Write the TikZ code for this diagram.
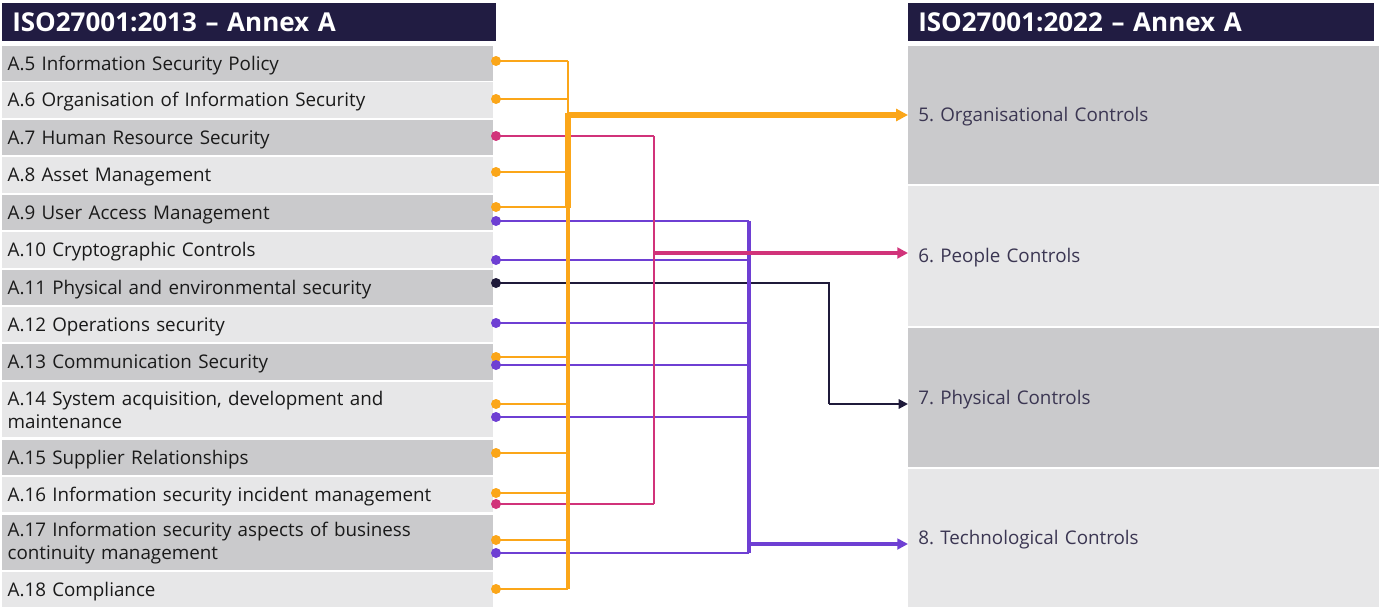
\documentclass[tikz,border=0pt]{standalone}
\usepackage{fontspec}
\setmainfont{Open Sans}
\usetikzlibrary{arrows.meta}
\definecolor{hdr}{HTML}{211C42}
\definecolor{gdk}{HTML}{CACACC}
\definecolor{glt}{HTML}{E7E7E8}
\definecolor{corg}{HTML}{FBA619}
\definecolor{cmag}{HTML}{D1337A}
\definecolor{cpur}{HTML}{6E3FD3}
\definecolor{cnav}{HTML}{1F1A3A}
\definecolor{rtxt}{HTML}{3B3652}
\definecolor{ltxt}{HTML}{1A1A1A}
\tikzset{
  hdrbox/.style={fill=hdr, text=white, font=\bfseries\fontsize{19.5}{22}\selectfont, inner xsep=7.5pt, minimum height=28.5pt, text width=355pt, align=left, anchor=north west, inner ysep=0pt},
  lrow/.style={anchor=north west, text=ltxt, font=\frenchspacing\fontsize{14.1}{17.2}\selectfont, text width=359.75pt, inner xsep=4pt, inner ysep=0pt, align=left},
  one/.style={text height=10.6pt, text depth=0.6pt},
  rrow/.style={anchor=north west, text=rtxt, font=\frenchspacing\fontsize{14.1}{17.2}\selectfont, text width=339.5pt, inner xsep=7.5pt, inner ysep=0pt, align=left, one},
  wire/.style={line width=1.5pt},
  dotc/.style={circle, inner sep=0pt, minimum size=7.5pt},
  tip/.style={-{Triangle[length=7pt,width=7pt]}}
}
\begin{document}
\begin{tikzpicture}[x=0.75pt,y=-0.75pt]
\useasboundingbox (0,0) rectangle (1379,614);
% headers
\node[hdrbox] (h1) at (2,3) {ISO27001:2013 – Annex A};
\node[hdrbox, text width=334pt] (h2) at (908,3) {ISO27001:2022 – Annex A};
% left rows
\node[lrow, one, fill=gdk, minimum height=26.25pt] (a5) at (2,46) {A.5 Information Security Policy};
\node[lrow, one, fill=glt, minimum height=27pt] (a6) at (2,82) {A.6 Organisation of Information Security};
\node[lrow, one, fill=gdk, minimum height=26.25pt] (a7) at (2,120) {A.7 Human Resource Security};
\node[lrow, one, fill=glt, minimum height=27pt] (a8) at (2,157) {A.8 Asset Management};
\node[lrow, one, fill=gdk, minimum height=26.25pt] (a9) at (2,195) {A.9 User Access Management};
\node[lrow, one, fill=glt, minimum height=27pt] (a10) at (2,232) {A.10 Cryptographic Controls};
\node[lrow, one, fill=gdk, minimum height=26.25pt] (a11) at (2,270) {A.11 Physical and environmental security};
\node[lrow, one, fill=glt, minimum height=26.25pt] (a12) at (2,307) {A.12 Operations security};
\node[lrow, one, fill=gdk, minimum height=27pt] (a13) at (2,344) {A.13 Communication Security};
\node[lrow, fill=glt, minimum height=41.25pt] (a14) at (2,382) {A.14 System acquisition, development and\\maintenance};
\node[lrow, one, fill=gdk, minimum height=26.25pt] (a15) at (2,440) {A.15 Supplier Relationships};
\node[lrow, one, fill=glt, minimum height=26.25pt] (a16) at (2,477) {A.16 Information security incident management};
\node[lrow, fill=gdk, minimum height=41.25pt] (a17) at (2,515) {A.17 Information security aspects of business\\continuity management};
\node[lrow, one, fill=glt, minimum height=26.25pt] (a18) at (2,572) {A.18 Compliance};
% right rows
\node[rrow, fill=gdk, minimum height=103.5pt] (c5) at (908,46) {5. Organisational Controls};
\node[rrow, fill=glt, minimum height=105pt] (c6) at (908,186) {6. People Controls};
\node[rrow, fill=gdk, minimum height=104.25pt] (c7) at (908,328) {7. Physical Controls};
\node[rrow, fill=glt, minimum height=103.5pt] (c8) at (908,469) {8. Technological Controls};
% dot coordinates
\coordinate (o5) at (496,61);
\coordinate (o6) at (496,99);
\coordinate (m7) at (496,136);
\coordinate (o8) at (496,172);
\coordinate (o9) at (496,207);
\coordinate (p9) at (496,221);
\coordinate (p10) at (496,260);
\coordinate (n11) at (496,283);
\coordinate (p12) at (496,323);
\coordinate (o13) at (496,357);
\coordinate (p13) at (496,365);
\coordinate (o14) at (496,404);
\coordinate (p14) at (496,417);
\coordinate (o15) at (496,453);
\coordinate (o16) at (496,493);
\coordinate (m16) at (496,504);
\coordinate (o17) at (496,540);
\coordinate (p17) at (496,553);
\coordinate (o18) at (496,589);
% bus coordinates
\coordinate (obT) at (568,61);
\coordinate (obB) at (568,589);
\coordinate (obA) at (568,115);
\coordinate (mbT) at (654,136);
\coordinate (mbB) at (654,504);
\coordinate (mbA) at (654,253);
\coordinate (pbT) at (749,221);
\coordinate (pbB) at (749,553);
\coordinate (pbA) at (749,544);
\coordinate (nbA) at (829,404);
% navy
\draw[wire, cnav] (n11) -| (nbA);
\draw[wire, cnav, tip] (nbA) -- (c7.west |- nbA);
% purple
\foreach \p in {p9,p10,p12,p13,p14,p17} \draw[wire, cpur] (\p) -- (\p -| pbT);
\draw[wire, cpur, line width=2.6pt] (pbT) -- (pbB);
\draw[cpur, line width=3.2pt, -{Triangle[length=8pt,width=8pt]}] (pbA) -- (c8.west |- pbA);
% magenta
\foreach \p in {m7,m16} \draw[wire, cmag] (\p) -- (\p -| mbT);
\draw[wire, cmag] (mbT) -- (mbB);
\draw[cmag, line width=2.4pt, -{Triangle[length=8pt,width=8pt]}] (mbA) -- (c6.west |- mbA);
% orange
\foreach \p in {o5,o6,o8,o9,o13,o14,o15,o16,o17,o18} \draw[wire, corg] (\p) -- (\p -| obT);
\draw[wire, corg] (obT) -- (obA);
\draw[corg, line width=2.4pt] (obA) -- (obB);
\draw[corg, line width=4pt] (568,113) -- (568,208);
\draw[corg, line width=4pt, -{Triangle[length=9pt,width=9pt]}] (obA) -- (c5.west |- obA);
% dots
\foreach \p in {o5,o6,o8,o9,o13,o14,o15,o16,o17,o18} \node[dotc, fill=corg] at (\p) {};
\foreach \p in {m7,m16} \node[dotc, fill=cmag] at (\p) {};
\foreach \p in {p9,p10,p12,p13,p14,p17} \node[dotc, fill=cpur] at (\p) {};
\node[dotc, fill=cnav] at (n11) {};
\end{tikzpicture}
\end{document}
